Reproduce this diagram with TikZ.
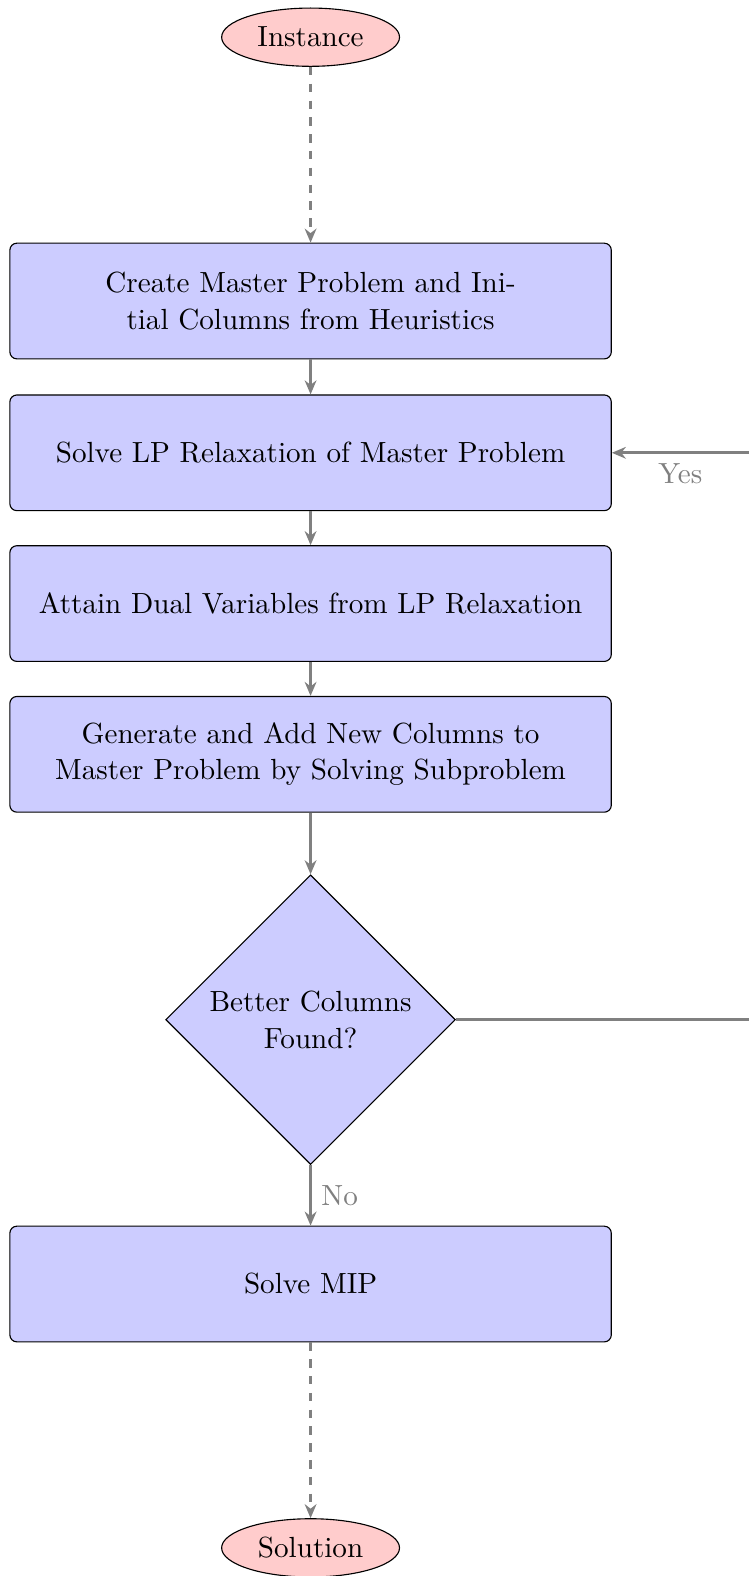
\documentclass[tikz,border=0pt]{standalone}
\usetikzlibrary{shapes.geometric,arrows.meta}
\begin{document}
\begin{tikzpicture}[x={(0.3588pt,0)},y={(0,-0.3588pt)},
  font=\fontsize{10.4}{13}\selectfont,
  procbox/.style={rectangle, rounded corners=2.5pt, draw=black, fill=blue!20, minimum width=214.7pt, minimum height=41.3pt, text width=201pt, align=center, inner sep=0pt},
  termnode/.style={ellipse, draw=black, fill=red!20, minimum width=63.5pt, minimum height=20.8pt, inner sep=0pt},
  decnode/.style={diamond, draw=black, fill=blue!20, minimum width=103.4pt, minimum height=103.4pt, aspect=1, align=center, inner sep=0pt},
  flow/.style={draw=gray, line width=1.1pt, -{Stealth[length=5pt,width=4.2pt]}},
  dflow/.style={flow, dash pattern=on 3pt off 3pt},
  lbl/.style={text=gray}]
\useasboundingbox (0,0) rectangle (745,1568);
\node[termnode] (inst) at (309,37) {Instance};
\node[procbox] (b1) at (309,299.5) {Create Master Problem and Ini-\\tial Columns from Heuristics};
\node[procbox] (b2) at (309,450.5) {Solve LP Relaxation of Master Problem};
\node[procbox] (b3) at (309,600.5) {Attain Dual Variables from LP Relaxation};
\node[procbox] (b4) at (309,750.5) {Generate and Add New Columns to\\Master Problem by Solving Subproblem};
\node[decnode] (dec) at (309,1014.5) {Better Columns\\Found?};
\node[procbox] (b5) at (309,1277.5) {Solve MIP};
\node[termnode] (sol) at (309,1540) {Solution};
\coordinate (r1) at (745,1014.5);
\coordinate (r2) at (745,450.5);
\draw[dflow] (inst) -- (b1);
\draw[flow] (b1) -- (b2);
\draw[flow] (b2) -- (b3);
\draw[flow] (b3) -- (b4);
\draw[flow] (b4) -- (dec);
\draw[flow] (dec) -- node[lbl, right] {No} (b5);
\draw[dflow] (b5) -- (sol);
\draw[draw=gray, line width=1.1pt] (dec.east) -- (r1);
\draw[flow] (r2) -- node[lbl, below, pos=0.5] {Yes} (b2.east);
\end{tikzpicture}
\end{document}
